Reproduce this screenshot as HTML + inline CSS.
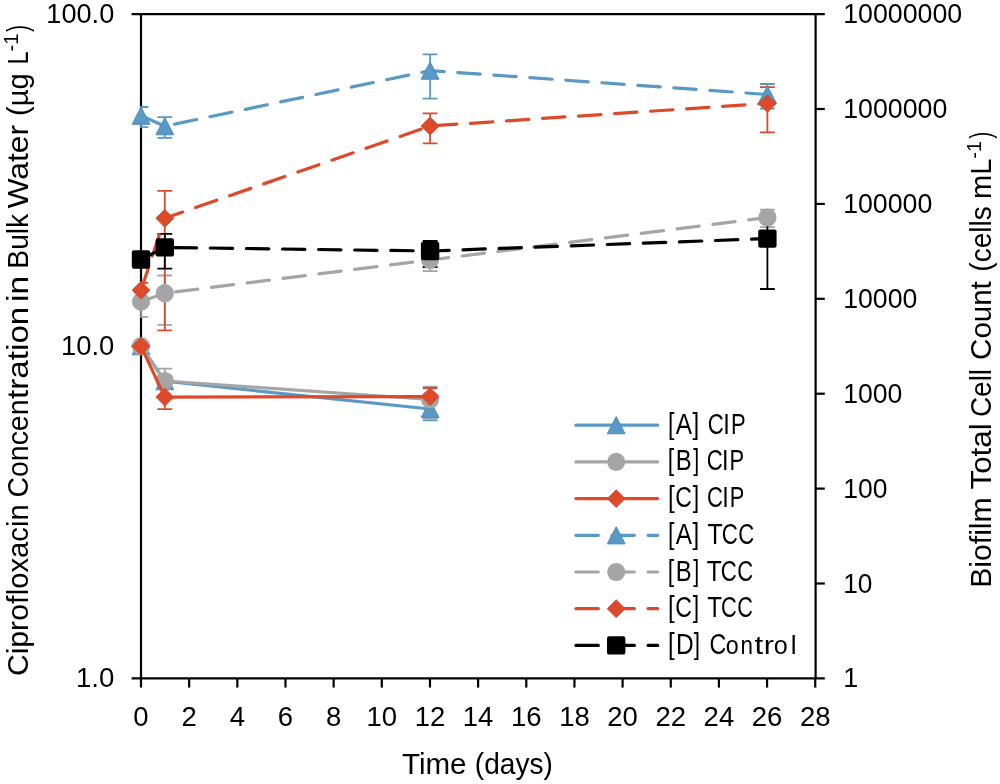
<!DOCTYPE html><html><head><meta charset="utf-8"><style>html,body{margin:0;padding:0;background:#fff;}svg{display:block;will-change:transform}</style></head><body>
<svg width="1000" height="784" viewBox="0 0 1000 784">
<rect width="1000" height="784" fill="#fff"/>
<defs><clipPath id="pa"><rect x="140.2" y="0" width="674.4" height="784"/></clipPath></defs>
<path d="M131.6 14.1H824.8M131.6 678.4H824.8" stroke="#000" stroke-width="2.2" fill="none"/>
<path d="M131.6 346.25H141.0" stroke="#000" stroke-width="2.2" fill="none"/>
<path d="M815.6 109.00H824.8" stroke="#000" stroke-width="2.2" fill="none"/>
<path d="M815.6 203.90H824.8" stroke="#000" stroke-width="2.2" fill="none"/>
<path d="M815.6 298.80H824.8" stroke="#000" stroke-width="2.2" fill="none"/>
<path d="M815.6 393.70H824.8" stroke="#000" stroke-width="2.2" fill="none"/>
<path d="M815.6 488.60H824.8" stroke="#000" stroke-width="2.2" fill="none"/>
<path d="M815.6 583.50H824.8" stroke="#000" stroke-width="2.2" fill="none"/>
<path d="M141.00 678.4V687.6" stroke="#000" stroke-width="2.2" fill="none"/>
<path d="M189.16 678.4V687.6" stroke="#000" stroke-width="2.2" fill="none"/>
<path d="M237.32 678.4V687.6" stroke="#000" stroke-width="2.2" fill="none"/>
<path d="M285.48 678.4V687.6" stroke="#000" stroke-width="2.2" fill="none"/>
<path d="M333.64 678.4V687.6" stroke="#000" stroke-width="2.2" fill="none"/>
<path d="M381.80 678.4V687.6" stroke="#000" stroke-width="2.2" fill="none"/>
<path d="M429.96 678.4V687.6" stroke="#000" stroke-width="2.2" fill="none"/>
<path d="M478.12 678.4V687.6" stroke="#000" stroke-width="2.2" fill="none"/>
<path d="M526.28 678.4V687.6" stroke="#000" stroke-width="2.2" fill="none"/>
<path d="M574.44 678.4V687.6" stroke="#000" stroke-width="2.2" fill="none"/>
<path d="M622.60 678.4V687.6" stroke="#000" stroke-width="2.2" fill="none"/>
<path d="M670.76 678.4V687.6" stroke="#000" stroke-width="2.2" fill="none"/>
<path d="M718.92 678.4V687.6" stroke="#000" stroke-width="2.2" fill="none"/>
<path d="M767.08 678.4V687.6" stroke="#000" stroke-width="2.2" fill="none"/>
<path d="M815.24 678.4V687.6" stroke="#000" stroke-width="2.2" fill="none"/>
<text x="46.33" y="22.60" font-family="Liberation Sans, sans-serif" font-size="27.5" textLength="67.93" lengthAdjust="spacingAndGlyphs" fill="#000">100.0</text>
<text x="60.91" y="354.80" font-family="Liberation Sans, sans-serif" font-size="27.5" textLength="53.36" lengthAdjust="spacingAndGlyphs" fill="#000">10.0</text>
<text x="75.90" y="687.00" font-family="Liberation Sans, sans-serif" font-size="27.5" textLength="38.38" lengthAdjust="spacingAndGlyphs" fill="#000">1.0</text>
<text x="843.16" y="23.10" font-family="Liberation Sans, sans-serif" font-size="27.5" textLength="119.08" lengthAdjust="spacingAndGlyphs" fill="#000">10000000</text>
<text x="843.16" y="118.00" font-family="Liberation Sans, sans-serif" font-size="27.5" textLength="104.11" lengthAdjust="spacingAndGlyphs" fill="#000">1000000</text>
<text x="843.17" y="212.90" font-family="Liberation Sans, sans-serif" font-size="27.5" textLength="89.14" lengthAdjust="spacingAndGlyphs" fill="#000">100000</text>
<text x="843.17" y="307.80" font-family="Liberation Sans, sans-serif" font-size="27.5" textLength="74.16" lengthAdjust="spacingAndGlyphs" fill="#000">10000</text>
<text x="843.17" y="402.70" font-family="Liberation Sans, sans-serif" font-size="27.5" textLength="59.19" lengthAdjust="spacingAndGlyphs" fill="#000">1000</text>
<text x="843.18" y="497.60" font-family="Liberation Sans, sans-serif" font-size="27.5" textLength="44.20" lengthAdjust="spacingAndGlyphs" fill="#000">100</text>
<text x="843.20" y="592.50" font-family="Liberation Sans, sans-serif" font-size="27.5" textLength="29.21" lengthAdjust="spacingAndGlyphs" fill="#000">10</text>
<text x="843.15" y="687.40" font-family="Liberation Sans, sans-serif" font-size="27.5" textLength="14.96" lengthAdjust="spacingAndGlyphs" fill="#000">1</text>
<text x="141.00" y="725.6" text-anchor="middle" font-family="Liberation Sans, sans-serif" font-size="27.5" fill="#000">0</text>
<text x="189.16" y="725.6" text-anchor="middle" font-family="Liberation Sans, sans-serif" font-size="27.5" fill="#000">2</text>
<text x="237.32" y="725.6" text-anchor="middle" font-family="Liberation Sans, sans-serif" font-size="27.5" fill="#000">4</text>
<text x="285.48" y="725.6" text-anchor="middle" font-family="Liberation Sans, sans-serif" font-size="27.5" fill="#000">6</text>
<text x="333.64" y="725.6" text-anchor="middle" font-family="Liberation Sans, sans-serif" font-size="27.5" fill="#000">8</text>
<text x="381.80" y="725.6" text-anchor="middle" font-family="Liberation Sans, sans-serif" font-size="27.5" fill="#000">10</text>
<text x="429.96" y="725.6" text-anchor="middle" font-family="Liberation Sans, sans-serif" font-size="27.5" fill="#000">12</text>
<text x="478.12" y="725.6" text-anchor="middle" font-family="Liberation Sans, sans-serif" font-size="27.5" fill="#000">14</text>
<text x="526.28" y="725.6" text-anchor="middle" font-family="Liberation Sans, sans-serif" font-size="27.5" fill="#000">16</text>
<text x="574.44" y="725.6" text-anchor="middle" font-family="Liberation Sans, sans-serif" font-size="27.5" fill="#000">18</text>
<text x="622.60" y="725.6" text-anchor="middle" font-family="Liberation Sans, sans-serif" font-size="27.5" fill="#000">20</text>
<text x="670.76" y="725.6" text-anchor="middle" font-family="Liberation Sans, sans-serif" font-size="27.5" fill="#000">22</text>
<text x="718.92" y="725.6" text-anchor="middle" font-family="Liberation Sans, sans-serif" font-size="27.5" fill="#000">24</text>
<text x="767.08" y="725.6" text-anchor="middle" font-family="Liberation Sans, sans-serif" font-size="27.5" fill="#000">26</text>
<text x="815.24" y="725.6" text-anchor="middle" font-family="Liberation Sans, sans-serif" font-size="27.5" fill="#000">28</text>
<text x="401.95" y="774.10" font-family="Liberation Sans, sans-serif" font-size="29" textLength="64.54" lengthAdjust="spacingAndGlyphs" fill="#000">Time</text>
<text x="474.86" y="774.10" font-family="Liberation Sans, sans-serif" font-size="29" textLength="77.98" lengthAdjust="spacingAndGlyphs" fill="#000">(days)</text>
<g transform="rotate(-90)"><text x="-676.13" y="27.70" font-family="Liberation Sans, sans-serif" font-size="29" textLength="80.39" lengthAdjust="spacingAndGlyphs" fill="#000">Ciprof</text><text x="-595.16" y="27.70" font-family="Liberation Sans, sans-serif" font-size="29" textLength="90.76" lengthAdjust="spacingAndGlyphs" fill="#000">loxacin</text><text x="-497.44" y="27.70" font-family="Liberation Sans, sans-serif" font-size="29" textLength="97.89" lengthAdjust="spacingAndGlyphs" fill="#000">Concen</text><text x="-398.90" y="27.70" font-family="Liberation Sans, sans-serif" font-size="29" textLength="92.16" lengthAdjust="spacingAndGlyphs" fill="#000">tration</text><text x="-302.04" y="27.70" font-family="Liberation Sans, sans-serif" font-size="29" textLength="26.00" lengthAdjust="spacingAndGlyphs" fill="#000">in</text><text x="-268.72" y="27.70" font-family="Liberation Sans, sans-serif" font-size="29" textLength="54.98" lengthAdjust="spacingAndGlyphs" fill="#000">Bulk</text><text x="-208.64" y="27.70" font-family="Liberation Sans, sans-serif" font-size="29" textLength="83.86" lengthAdjust="spacingAndGlyphs" fill="#000">Water</text><text x="-116.01" y="27.70" font-family="Liberation Sans, sans-serif" font-size="29" textLength="42.79" lengthAdjust="spacingAndGlyphs" fill="#000">(µg</text><text x="-64.53" y="27.70" font-family="Liberation Sans, sans-serif" font-size="29" textLength="13.12" lengthAdjust="spacingAndGlyphs" fill="#000">L</text><text x="-51.39" y="17.50" font-family="Liberation Sans, sans-serif" font-size="20.8" textLength="17.87" lengthAdjust="spacingAndGlyphs" fill="#000">-1</text><text x="-31.93" y="27.70" font-family="Liberation Sans, sans-serif" font-size="29" textLength="7.16" lengthAdjust="spacingAndGlyphs" fill="#000">)</text></g>
<g transform="rotate(-90)"><text x="-587.88" y="990.90" font-family="Liberation Sans, sans-serif" font-size="29" textLength="90.57" lengthAdjust="spacingAndGlyphs" fill="#000">Biofilm</text><text x="-489.47" y="990.90" font-family="Liberation Sans, sans-serif" font-size="29" textLength="66.16" lengthAdjust="spacingAndGlyphs" fill="#000">Total</text><text x="-417.12" y="990.90" font-family="Liberation Sans, sans-serif" font-size="29" textLength="48.19" lengthAdjust="spacingAndGlyphs" fill="#000">Cell</text><text x="-359.90" y="990.90" font-family="Liberation Sans, sans-serif" font-size="29" textLength="78.71" lengthAdjust="spacingAndGlyphs" fill="#000">Count</text><text x="-271.64" y="990.90" font-family="Liberation Sans, sans-serif" font-size="29" textLength="65.45" lengthAdjust="spacingAndGlyphs" fill="#000">(cells</text><text x="-198.94" y="990.90" font-family="Liberation Sans, sans-serif" font-size="29" textLength="40.50" lengthAdjust="spacingAndGlyphs" fill="#000">mL</text><text x="-158.69" y="981.00" font-family="Liberation Sans, sans-serif" font-size="20.8" textLength="17.76" lengthAdjust="spacingAndGlyphs" fill="#000">-1</text><text x="-138.52" y="990.90" font-family="Liberation Sans, sans-serif" font-size="29" textLength="6.78" lengthAdjust="spacingAndGlyphs" fill="#000">)</text></g>
<path d="M141.0 14.1V678.4" stroke="#000" stroke-width="2.2" fill="none"/>
<path d="M815.6 14.1V678.4" stroke="#000" stroke-width="2.2" fill="none"/>
<path d="M164.80 376.00V386.00M157.40 376.00H172.20M157.40 386.00H172.20" stroke="#5899C6" stroke-width="1.8" fill="none"/>
<path d="M430.10 400.00V420.30M422.70 400.00H437.50M422.70 420.30H437.50" stroke="#5899C6" stroke-width="1.8" fill="none"/>
<path d="M164.80 368.60V388.00M157.40 368.60H172.20M157.40 388.00H172.20" stroke="#A5A5A5" stroke-width="1.8" fill="none"/>
<path d="M430.10 386.70V418.60M422.70 386.70H437.50M422.70 418.60H437.50" stroke="#A5A5A5" stroke-width="1.8" fill="none"/>
<path d="M164.80 388.00V409.20M157.40 388.00H172.20M157.40 409.20H172.20" stroke="#DD4A2B" stroke-width="1.8" fill="none"/>
<path d="M430.10 388.00V398.00M422.70 388.00H437.50M422.70 398.00H437.50" stroke="#DD4A2B" stroke-width="1.8" fill="none"/>
<g clip-path="url(#pa)"><path d="M141.00 107.00V127.20M133.60 107.00H148.40M133.60 127.20H148.40" stroke="#5899C6" stroke-width="1.8" fill="none"/></g>
<path d="M164.80 117.20V137.80M157.40 117.20H172.20M157.40 137.80H172.20" stroke="#5899C6" stroke-width="1.8" fill="none"/>
<path d="M430.10 54.30V98.70M422.70 54.30H437.50M422.70 98.70H437.50" stroke="#5899C6" stroke-width="1.8" fill="none"/>
<path d="M767.40 84.00V108.50M760.00 84.00H774.80M760.00 108.50H774.80" stroke="#5899C6" stroke-width="1.8" fill="none"/>
<g clip-path="url(#pa)"><path d="M141.00 290.00V316.80M133.60 290.00H148.40M133.60 316.80H148.40" stroke="#A5A5A5" stroke-width="1.8" fill="none"/></g>
<path d="M164.80 275.50V324.80M157.40 275.50H172.20M157.40 324.80H172.20" stroke="#A5A5A5" stroke-width="1.8" fill="none"/>
<path d="M430.10 250.00V271.20M422.70 250.00H437.50M422.70 271.20H437.50" stroke="#A5A5A5" stroke-width="1.8" fill="none"/>
<path d="M767.40 209.60V227.20M760.00 209.60H774.80M760.00 227.20H774.80" stroke="#A5A5A5" stroke-width="1.8" fill="none"/>
<g clip-path="url(#pa)"><path d="M141.00 282.80V298.00M133.60 282.80H148.40M133.60 298.00H148.40" stroke="#DD4A2B" stroke-width="1.8" fill="none"/></g>
<path d="M164.80 190.80V330.30M157.40 190.80H172.20M157.40 330.30H172.20" stroke="#DD4A2B" stroke-width="1.8" fill="none"/>
<path d="M430.10 113.40V143.40M422.70 113.40H437.50M422.70 143.40H437.50" stroke="#DD4A2B" stroke-width="1.8" fill="none"/>
<path d="M767.40 87.20V132.30M760.00 87.20H774.80M760.00 132.30H774.80" stroke="#DD4A2B" stroke-width="1.8" fill="none"/>
<g clip-path="url(#pa)"><path d="M141.00 252.00V266.00M133.60 252.00H148.40M133.60 266.00H148.40" stroke="#000000" stroke-width="1.8" fill="none"/></g>
<path d="M164.80 233.80V268.60M157.40 233.80H172.20M157.40 268.60H172.20" stroke="#000000" stroke-width="1.8" fill="none"/>
<path d="M430.10 241.00V267.00M422.70 241.00H437.50M422.70 267.00H437.50" stroke="#000000" stroke-width="1.8" fill="none"/>
<path d="M767.40 221.00V289.00M760.00 221.00H774.80M760.00 289.00H774.80" stroke="#000000" stroke-width="1.8" fill="none"/>
<g><g clip-path="url(#pa)"><path d="M141.00 346.20L164.80 381.20L430.10 409.00" stroke="#5899C6" stroke-width="3.2" fill="none" stroke-linecap="round" stroke-linejoin="round"/></g><path d="M141.00 337.61L149.90 354.79L132.10 354.79Z" fill="#5899C6" stroke="#4A8BC0" stroke-width="1" stroke-linejoin="round"/><path d="M164.80 372.61L173.70 389.79L155.90 389.79Z" fill="#5899C6" stroke="#4A8BC0" stroke-width="1" stroke-linejoin="round"/><path d="M430.10 400.41L439.00 417.59L421.20 417.59Z" fill="#5899C6" stroke="#4A8BC0" stroke-width="1" stroke-linejoin="round"/></g>
<g><g clip-path="url(#pa)"><path d="M141.00 346.20L164.80 381.00L430.10 399.50" stroke="#A5A5A5" stroke-width="3.2" fill="none" stroke-linecap="round" stroke-linejoin="round"/></g><circle cx="141.00" cy="346.20" r="9.1" fill="#A5A5A5"/><circle cx="164.80" cy="381.00" r="9.1" fill="#A5A5A5"/><circle cx="430.10" cy="399.50" r="9.1" fill="#A5A5A5"/></g>
<g><g clip-path="url(#pa)"><path d="M141.00 346.20L164.80 397.10L430.10 396.60" stroke="#DD4A2B" stroke-width="3.2" fill="none" stroke-linecap="round" stroke-linejoin="round"/></g><path d="M141.00 337.30L149.90 346.20L141.00 355.10L132.10 346.20Z" fill="#DD4A2B" stroke="#DD4A2B" stroke-width="1.0" stroke-linejoin="round"/><path d="M164.80 388.20L173.70 397.10L164.80 406.00L155.90 397.10Z" fill="#DD4A2B" stroke="#DD4A2B" stroke-width="1.0" stroke-linejoin="round"/><path d="M430.10 387.70L439.00 396.60L430.10 405.50L421.20 396.60Z" fill="#DD4A2B" stroke="#DD4A2B" stroke-width="1.0" stroke-linejoin="round"/></g>
<g><g clip-path="url(#pa)"><path d="M141.00 115.70L164.80 126.20L430.10 70.60L767.40 94.50" stroke="#5899C6" stroke-width="3.2" fill="none" stroke-linecap="round" stroke-linejoin="round" stroke-dasharray="22.4 13.7"/></g><path d="M141.00 107.11L149.90 124.29L132.10 124.29Z" fill="#5899C6" stroke="#4A8BC0" stroke-width="1" stroke-linejoin="round"/><path d="M164.80 117.61L173.70 134.79L155.90 134.79Z" fill="#5899C6" stroke="#4A8BC0" stroke-width="1" stroke-linejoin="round"/><path d="M430.10 62.01L439.00 79.19L421.20 79.19Z" fill="#5899C6" stroke="#4A8BC0" stroke-width="1" stroke-linejoin="round"/><path d="M767.40 85.91L776.30 103.09L758.50 103.09Z" fill="#5899C6" stroke="#4A8BC0" stroke-width="1" stroke-linejoin="round"/></g>
<g><g clip-path="url(#pa)"><path d="M141.00 301.60L164.80 293.20L430.10 260.00L767.40 217.50" stroke="#A5A5A5" stroke-width="3.2" fill="none" stroke-linecap="round" stroke-linejoin="round" stroke-dasharray="22.4 13.7"/></g><circle cx="141.00" cy="301.60" r="9.1" fill="#A5A5A5"/><circle cx="164.80" cy="293.20" r="9.1" fill="#A5A5A5"/><circle cx="430.10" cy="260.00" r="9.1" fill="#A5A5A5"/><circle cx="767.40" cy="217.50" r="9.1" fill="#A5A5A5"/></g>
<g><g clip-path="url(#pa)"><path d="M141.00 290.20L164.80 218.30L430.10 126.00L767.40 103.40" stroke="#DD4A2B" stroke-width="3.2" fill="none" stroke-linecap="round" stroke-linejoin="round" stroke-dasharray="22.4 13.7"/></g><path d="M141.00 281.30L149.90 290.20L141.00 299.10L132.10 290.20Z" fill="#DD4A2B" stroke="#DD4A2B" stroke-width="1.0" stroke-linejoin="round"/><path d="M164.80 209.40L173.70 218.30L164.80 227.20L155.90 218.30Z" fill="#DD4A2B" stroke="#DD4A2B" stroke-width="1.0" stroke-linejoin="round"/><path d="M430.10 117.10L439.00 126.00L430.10 134.90L421.20 126.00Z" fill="#DD4A2B" stroke="#DD4A2B" stroke-width="1.0" stroke-linejoin="round"/><path d="M767.40 94.50L776.30 103.40L767.40 112.30L758.50 103.40Z" fill="#DD4A2B" stroke="#DD4A2B" stroke-width="1.0" stroke-linejoin="round"/></g>
<g><g clip-path="url(#pa)"><path d="M141.00 259.50L164.80 247.40L430.10 251.00L767.40 238.60" stroke="#000000" stroke-width="3.2" fill="none" stroke-linecap="round" stroke-linejoin="round" stroke-dasharray="22.4 13.7"/></g><rect x="131.80" y="250.30" width="18.4" height="18.4" rx="2.2" fill="#000000"/><rect x="155.60" y="238.20" width="18.4" height="18.4" rx="2.2" fill="#000000"/><rect x="420.90" y="241.80" width="18.4" height="18.4" rx="2.2" fill="#000000"/><rect x="758.20" y="229.40" width="18.4" height="18.4" rx="2.2" fill="#000000"/></g>
<path d="M575.9 425.20H657.6999999999999" stroke="#5899C6" stroke-width="3.2" stroke-linecap="round"/>
<path d="M616.20 416.61L625.10 433.79L607.30 433.79Z" fill="#5899C6" stroke="#4A8BC0" stroke-width="1" stroke-linejoin="round"/>
<text x="667.95" y="433.70" font-family="Liberation Sans, sans-serif" font-size="28.6" textLength="6.43" lengthAdjust="spacingAndGlyphs" fill="#000">[</text>
<text x="675.75" y="433.70" font-family="Liberation Sans, sans-serif" font-size="28.6" textLength="16.30" lengthAdjust="spacingAndGlyphs" fill="#000">A</text>
<text x="692.61" y="433.70" font-family="Liberation Sans, sans-serif" font-size="28.6" textLength="6.71" lengthAdjust="spacingAndGlyphs" fill="#000">]</text>
<text x="707.87" y="433.70" font-family="Liberation Sans, sans-serif" font-size="28.6" textLength="16.08" lengthAdjust="spacingAndGlyphs" fill="#000">C</text>
<text x="723.32" y="433.70" font-family="Liberation Sans, sans-serif" font-size="28.6" textLength="6.55" lengthAdjust="spacingAndGlyphs" fill="#000">I</text>
<text x="730.90" y="433.70" font-family="Liberation Sans, sans-serif" font-size="28.6" textLength="14.66" lengthAdjust="spacingAndGlyphs" fill="#000">P</text>
<path d="M575.9 461.90H657.6999999999999" stroke="#A5A5A5" stroke-width="3.2" stroke-linecap="round"/>
<circle cx="616.20" cy="461.90" r="9.1" fill="#A5A5A5"/>
<text x="667.85" y="470.40" font-family="Liberation Sans, sans-serif" font-size="28.6" textLength="6.43" lengthAdjust="spacingAndGlyphs" fill="#000">[</text>
<text x="675.84" y="470.40" font-family="Liberation Sans, sans-serif" font-size="28.6" textLength="15.92" lengthAdjust="spacingAndGlyphs" fill="#000">B</text>
<text x="693.33" y="470.40" font-family="Liberation Sans, sans-serif" font-size="28.6" textLength="6.01" lengthAdjust="spacingAndGlyphs" fill="#000">]</text>
<text x="706.68" y="470.40" font-family="Liberation Sans, sans-serif" font-size="28.6" textLength="15.99" lengthAdjust="spacingAndGlyphs" fill="#000">C</text>
<text x="722.04" y="470.40" font-family="Liberation Sans, sans-serif" font-size="28.6" textLength="6.52" lengthAdjust="spacingAndGlyphs" fill="#000">I</text>
<text x="729.57" y="470.40" font-family="Liberation Sans, sans-serif" font-size="28.6" textLength="14.58" lengthAdjust="spacingAndGlyphs" fill="#000">P</text>
<path d="M575.9 498.60H657.6999999999999" stroke="#DD4A2B" stroke-width="3.2" stroke-linecap="round"/>
<path d="M616.20 489.70L625.10 498.60L616.20 507.50L607.30 498.60Z" fill="#DD4A2B" stroke="#DD4A2B" stroke-width="1.0" stroke-linejoin="round"/>
<text x="667.88" y="507.10" font-family="Liberation Sans, sans-serif" font-size="28.6" textLength="6.71" lengthAdjust="spacingAndGlyphs" fill="#000">[</text>
<text x="675.23" y="507.10" font-family="Liberation Sans, sans-serif" font-size="28.6" textLength="16.65" lengthAdjust="spacingAndGlyphs" fill="#000">C</text>
<text x="692.82" y="507.10" font-family="Liberation Sans, sans-serif" font-size="28.6" textLength="6.43" lengthAdjust="spacingAndGlyphs" fill="#000">]</text>
<text x="706.88" y="507.10" font-family="Liberation Sans, sans-serif" font-size="28.6" textLength="15.90" lengthAdjust="spacingAndGlyphs" fill="#000">C</text>
<text x="722.16" y="507.10" font-family="Liberation Sans, sans-serif" font-size="28.6" textLength="6.48" lengthAdjust="spacingAndGlyphs" fill="#000">I</text>
<text x="729.65" y="507.10" font-family="Liberation Sans, sans-serif" font-size="28.6" textLength="14.50" lengthAdjust="spacingAndGlyphs" fill="#000">P</text>
<path d="M575.9 535.30H657.6999999999999" stroke="#5899C6" stroke-width="3.2" stroke-linecap="round" stroke-dasharray="22.4 13.7"/>
<path d="M616.20 526.71L625.10 543.89L607.30 543.89Z" fill="#5899C6" stroke="#4A8BC0" stroke-width="1" stroke-linejoin="round"/>
<text x="667.95" y="543.80" font-family="Liberation Sans, sans-serif" font-size="28.6" textLength="6.43" lengthAdjust="spacingAndGlyphs" fill="#000">[</text>
<text x="675.75" y="543.80" font-family="Liberation Sans, sans-serif" font-size="28.6" textLength="16.30" lengthAdjust="spacingAndGlyphs" fill="#000">A</text>
<text x="692.61" y="543.80" font-family="Liberation Sans, sans-serif" font-size="28.6" textLength="6.71" lengthAdjust="spacingAndGlyphs" fill="#000">]</text>
<text x="707.54" y="543.80" font-family="Liberation Sans, sans-serif" font-size="28.6" textLength="15.12" lengthAdjust="spacingAndGlyphs" fill="#000">T</text>
<text x="721.67" y="543.80" font-family="Liberation Sans, sans-serif" font-size="28.6" textLength="16.08" lengthAdjust="spacingAndGlyphs" fill="#000">C</text>
<text x="738.18" y="543.80" font-family="Liberation Sans, sans-serif" font-size="28.6" textLength="15.96" lengthAdjust="spacingAndGlyphs" fill="#000">C</text>
<path d="M575.9 572.00H657.6999999999999" stroke="#A5A5A5" stroke-width="3.2" stroke-linecap="round" stroke-dasharray="22.4 13.7"/>
<circle cx="616.20" cy="572.00" r="9.1" fill="#A5A5A5"/>
<text x="667.85" y="580.50" font-family="Liberation Sans, sans-serif" font-size="28.6" textLength="6.43" lengthAdjust="spacingAndGlyphs" fill="#000">[</text>
<text x="675.84" y="580.50" font-family="Liberation Sans, sans-serif" font-size="28.6" textLength="15.92" lengthAdjust="spacingAndGlyphs" fill="#000">B</text>
<text x="693.33" y="580.50" font-family="Liberation Sans, sans-serif" font-size="28.6" textLength="6.01" lengthAdjust="spacingAndGlyphs" fill="#000">]</text>
<text x="706.65" y="580.50" font-family="Liberation Sans, sans-serif" font-size="28.6" textLength="15.06" lengthAdjust="spacingAndGlyphs" fill="#000">T</text>
<text x="720.71" y="580.50" font-family="Liberation Sans, sans-serif" font-size="28.6" textLength="16.01" lengthAdjust="spacingAndGlyphs" fill="#000">C</text>
<text x="737.14" y="580.50" font-family="Liberation Sans, sans-serif" font-size="28.6" textLength="15.89" lengthAdjust="spacingAndGlyphs" fill="#000">C</text>
<path d="M575.9 608.70H657.6999999999999" stroke="#DD4A2B" stroke-width="3.2" stroke-linecap="round" stroke-dasharray="22.4 13.7"/>
<path d="M616.20 599.80L625.10 608.70L616.20 617.60L607.30 608.70Z" fill="#DD4A2B" stroke="#DD4A2B" stroke-width="1.0" stroke-linejoin="round"/>
<text x="667.88" y="617.20" font-family="Liberation Sans, sans-serif" font-size="28.6" textLength="6.71" lengthAdjust="spacingAndGlyphs" fill="#000">[</text>
<text x="675.23" y="617.20" font-family="Liberation Sans, sans-serif" font-size="28.6" textLength="16.65" lengthAdjust="spacingAndGlyphs" fill="#000">C</text>
<text x="692.82" y="617.20" font-family="Liberation Sans, sans-serif" font-size="28.6" textLength="6.43" lengthAdjust="spacingAndGlyphs" fill="#000">]</text>
<text x="707.15" y="617.20" font-family="Liberation Sans, sans-serif" font-size="28.6" textLength="14.82" lengthAdjust="spacingAndGlyphs" fill="#000">T</text>
<text x="721.00" y="617.20" font-family="Liberation Sans, sans-serif" font-size="28.6" textLength="15.76" lengthAdjust="spacingAndGlyphs" fill="#000">C</text>
<text x="737.18" y="617.20" font-family="Liberation Sans, sans-serif" font-size="28.6" textLength="15.65" lengthAdjust="spacingAndGlyphs" fill="#000">C</text>
<path d="M575.9 645.40H657.6999999999999" stroke="#000000" stroke-width="3.2" stroke-linecap="round" stroke-dasharray="22.4 13.7"/>
<rect x="607.00" y="636.20" width="18.4" height="18.4" rx="2.2" fill="#000000"/>
<text x="667.88" y="653.90" font-family="Liberation Sans, sans-serif" font-size="28.6" textLength="6.71" lengthAdjust="spacingAndGlyphs" fill="#000">[</text>
<text x="676.09" y="653.90" font-family="Liberation Sans, sans-serif" font-size="28.6" textLength="17.68" lengthAdjust="spacingAndGlyphs" fill="#000">D</text>
<text x="693.72" y="653.90" font-family="Liberation Sans, sans-serif" font-size="28.6" textLength="6.29" lengthAdjust="spacingAndGlyphs" fill="#000">]</text>
<text x="709.52" y="653.90" font-family="Liberation Sans, sans-serif" font-size="28.6" textLength="16.76" lengthAdjust="spacingAndGlyphs" fill="#000">C</text>
<text x="725.82" y="653.90" font-family="Liberation Sans, sans-serif" font-size="26.6" textLength="12.96" lengthAdjust="spacingAndGlyphs" fill="#000">o</text>
<text x="740.51" y="653.90" font-family="Liberation Sans, sans-serif" font-size="26.6" textLength="12.44" lengthAdjust="spacingAndGlyphs" fill="#000">n</text>
<text x="754.43" y="653.90" font-family="Liberation Sans, sans-serif" font-size="26.6" textLength="8.70" lengthAdjust="spacingAndGlyphs" fill="#000">t</text>
<text x="763.78" y="653.90" font-family="Liberation Sans, sans-serif" font-size="26.6" textLength="10.12" lengthAdjust="spacingAndGlyphs" fill="#000">r</text>
<text x="773.74" y="653.90" font-family="Liberation Sans, sans-serif" font-size="26.6" textLength="14.02" lengthAdjust="spacingAndGlyphs" fill="#000">o</text>
<text x="790.64" y="653.90" font-family="Liberation Sans, sans-serif" font-size="26.6" textLength="5.81" lengthAdjust="spacingAndGlyphs" fill="#000">l</text>
</svg></body></html>
